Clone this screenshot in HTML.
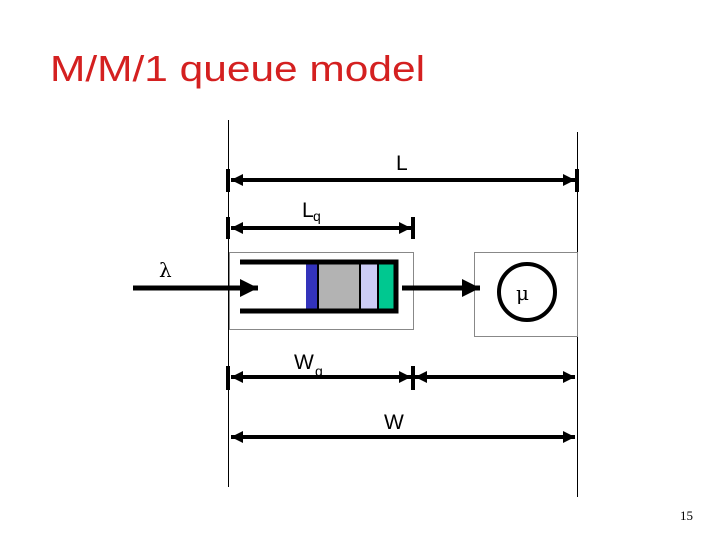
<!DOCTYPE html>
<html><head><meta charset="utf-8"><style>body{margin:0;background:#fff}svg{display:block}</style></head>
<body>
<svg width="720" height="540" viewBox="0 0 720 540" xmlns="http://www.w3.org/2000/svg" font-family="Liberation Sans, sans-serif">
<defs>
<marker id="a" viewBox="0 0 10 10" refX="10" refY="5" markerWidth="3" markerHeight="3" orient="auto-start-reverse"><path d="M0,0L10,5L0,10z" fill="#000"/></marker>
<marker id="b" viewBox="0 0 10 10" refX="10" refY="5" markerWidth="3.6" markerHeight="3.6" orient="auto"><path d="M0,0L10,5L0,10z" fill="#000"/></marker>
</defs>
<text x="50" y="81" font-size="36" fill="#d42020" textLength="375" lengthAdjust="spacingAndGlyphs">M/M/1 queue model</text>
<g stroke="#000" stroke-width="1" fill="none">
<line x1="228.5" y1="120" x2="228.5" y2="487"/>
<line x1="577.5" y1="132" x2="577.5" y2="497"/>
</g>
<g stroke="#888" stroke-width="1" fill="none">
<rect x="229.5" y="252.5" width="184" height="77"/>
<rect x="474.5" y="252.5" width="103" height="84"/>
</g>
<g stroke="#000" stroke-width="4">
<line x1="231" y1="180" x2="575" y2="180" marker-start="url(#a)" marker-end="url(#a)"/>
<line x1="231" y1="228" x2="411" y2="228" marker-start="url(#a)" marker-end="url(#a)"/>
<line x1="231" y1="377" x2="411" y2="377" marker-start="url(#a)" marker-end="url(#a)"/>
<line x1="415" y1="377" x2="575" y2="377" marker-start="url(#a)" marker-end="url(#a)"/>
<line x1="231" y1="437" x2="575" y2="437" marker-start="url(#a)" marker-end="url(#a)"/>
</g>
<g stroke="#000" stroke-width="4">
<line x1="228" y1="169" x2="228" y2="192"/>
<line x1="577" y1="169" x2="577" y2="192"/>
<line x1="228" y1="217" x2="228" y2="239"/>
<line x1="413" y1="217" x2="413" y2="239"/>
<line x1="228" y1="366" x2="228" y2="390"/>
<line x1="413" y1="366" x2="413" y2="390"/>
</g>
<rect x="306" y="264" width="12" height="45" fill="#3333bb"/>
<rect x="318" y="264" width="42" height="45" fill="#b3b3b3"/>
<rect x="360" y="264" width="18" height="45" fill="#ccccf5"/>
<rect x="378" y="264" width="16" height="45" fill="#00c890"/>
<g stroke="#000" stroke-width="2"><line x1="318" y1="264" x2="318" y2="309"/><line x1="360" y1="264" x2="360" y2="309"/><line x1="378" y1="264" x2="378" y2="309"/></g>
<g stroke="#000" stroke-width="5" fill="none">
<polyline points="240,262 396,262 396,311 240,311"/>
</g>
<g stroke="#000" stroke-width="5">
<line x1="133" y1="288" x2="258" y2="288" marker-end="url(#b)"/>
<line x1="402" y1="288" x2="480" y2="288" marker-end="url(#b)"/>
</g>
<circle cx="527" cy="292" r="28" fill="none" stroke="#000" stroke-width="4"/>
<text x="159" y="277" font-size="20" font-family="DejaVu Serif, serif">λ</text>
<text x="516" y="300" font-size="20" font-family="DejaVu Serif, serif">μ</text>
<text x="396" y="170" font-size="21">L</text>
<text x="302" y="217" font-size="21">L</text><text x="313" y="221" font-size="14">q</text>
<text x="294" y="369" font-size="21">W</text><text x="315" y="376" font-size="14">q</text>
<text x="384" y="429" font-size="21">W</text>
<text x="680" y="520" font-size="13" font-family="Liberation Serif, serif">15</text>
</svg>
</body></html>
